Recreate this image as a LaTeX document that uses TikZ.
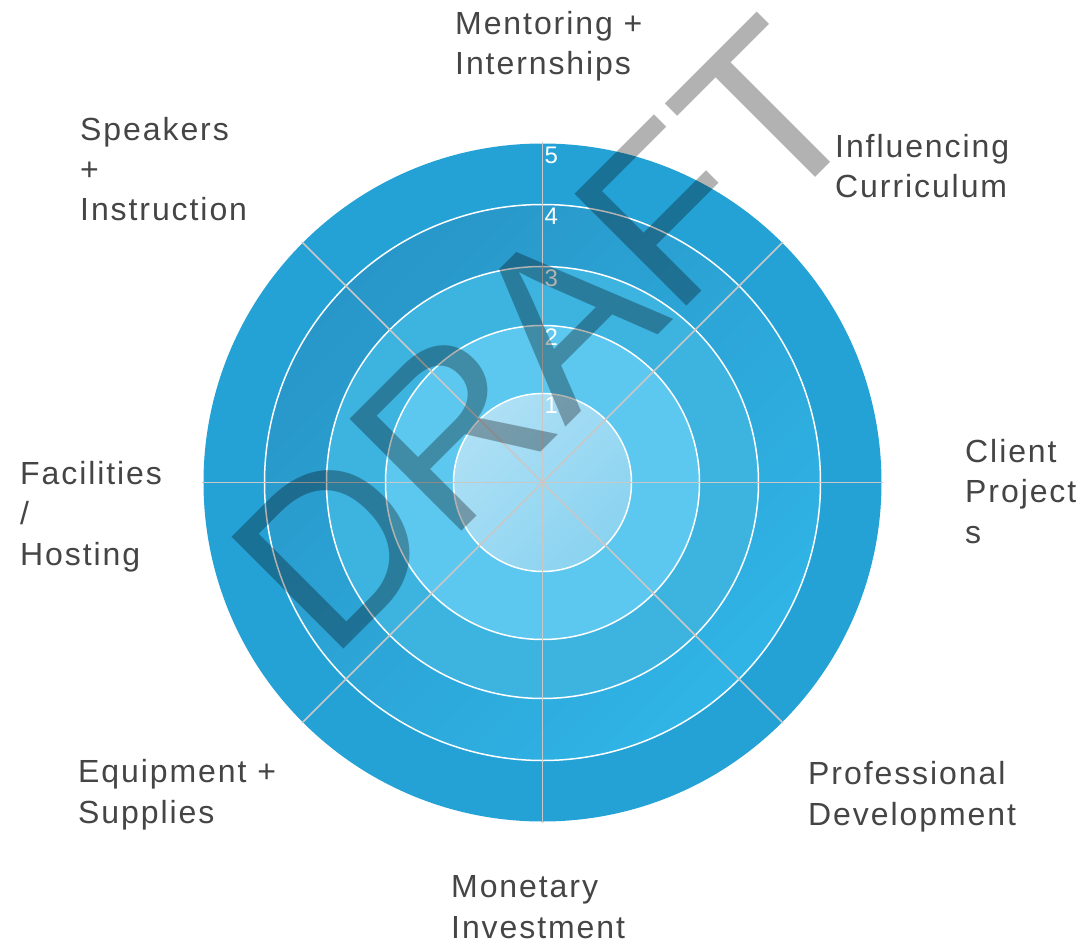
\documentclass[tikz,border=0pt]{standalone}
\usepackage{fontspec}
\setmainfont{Liberation Sans}[LetterSpace=6]
\newfontfamily\draftfont{Liberation Sans}
\definecolor{ringE}{HTML}{24A2D6}
\definecolor{ringDdark}{HTML}{2896C8}
\definecolor{ringDlight}{HTML}{30B4E6}
\definecolor{ringC}{HTML}{3DB3E0}
\definecolor{ringB}{HTML}{5CC8EF}
\definecolor{ringAlight}{HTML}{AEE0F5}
\definecolor{ringAdark}{HTML}{8AD3F0}
\definecolor{spoke}{RGB}{200,200,200}
\definecolor{labeltext}{HTML}{454545}
\tikzset{
  catlabel/.style={anchor=base west, inner sep=0pt, align=left, text=labeltext,
    font=\fontsize{32}{40.5}\selectfont},
  scalenum/.style={anchor=north west, inner sep=0pt, text=white,
    font=\fontsize{24}{24}\selectfont}
}
\begin{document}
\begin{tikzpicture}[x=1pt,y=1pt]
  \useasboundingbox (-542.5,-460.5) rectangle (546.5,482.5);
  % rings, outside in
  \fill[ringE] (0,0) circle (339pt);
  \shade[top color=ringDdark, bottom color=ringDlight, shading angle=45] (0,0) circle (278pt);
  \fill[ringC] (0,0) circle (216pt);
  \fill[ringB] (0,0) circle (157pt);
  \shade[top color=ringAlight, bottom color=ringAdark, shading angle=45] (0,0) circle (89pt);
  \foreach \r in {89,157,216,278}
    \draw[white, line width=1.5pt] (0,0) circle (\r pt);
  % spokes
  \foreach \a in {0,45,...,315}
    \draw[spoke, line width=1.5pt] (0,0) -- (\a:340pt);
  % scale
  \node[scalenum] (n1) at (2,86) {1};
  \node[scalenum] (n2) at (2,154) {2};
  \node[scalenum] (n3) at (2,213) {3};
  \node[scalenum] (n4) at (2,275) {4};
  \node[scalenum] (n5) at (2,336) {5};
  % categories (placed at the baseline of their last line)
  \node[catlabel] (mentor) at (-87.5,407.5) {Mentoring +\\Internships};
  \node[catlabel] (curric) at (292.5,284.5) {Influencing\\Curriculum};
  \node[catlabel] (client) at (422.5,-60.5) {Client\\Project\\s};
  \node[catlabel] (profdev) at (265.5,-342.5) {Professional\\Development};
  \node[catlabel] (money) at (-91.5,-455.5) {Monetary\\Investment};
  \node[catlabel] (equip) at (-464.5,-340.5) {Equipment +\\Supplies};
  \node[catlabel] (hosting) at (-522.5,-82.5) {Facilities\\/\\Hosting};
  \node[catlabel] (speakers) at (-462.5,261.5) {Speakers\\+\\Instruction};
  % watermark
  \node[rotate=45, anchor=base west, inner sep=0pt, text=black, text opacity=0.3,
    font=\draftfont\fontsize{230}{230}\selectfont] (draft) at (-212,-180) {DRAFT};
\end{tikzpicture}
\end{document}
